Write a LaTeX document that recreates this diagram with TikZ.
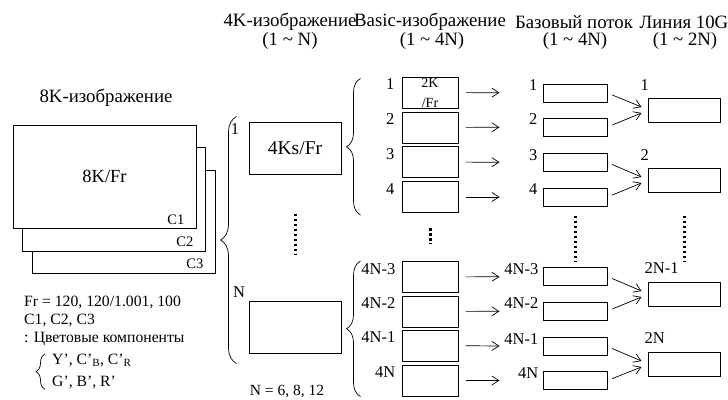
\documentclass[tikz,border=0pt]{standalone}
\usepackage{fontspec}
\setmainfont{Liberation Serif}
\usepackage{tikz}
\usetikzlibrary{arrows.meta, positioning, decorations.pathreplacing, calc}

\begin{document}
\begin{tikzpicture}[x=1pt, y=-1pt,
    every node/.style={inner sep=0pt, font=\fontsize{16.5}{19}\selectfont},
    hdr/.style={font=\fontsize{18.8}{21}\selectfont},
    clbl/.style={anchor=south east, font=\fontsize{14.5}{17}\selectfont},
    frame8k/.style={draw, fill=white, line width=1pt, minimum width=183pt, minimum height=103pt},
    kbox/.style={draw, line width=1pt, minimum width=92pt, minimum height=52pt},
    bbox/.style={draw, line width=1pt, minimum width=56pt, minimum height=31pt},
    sbox/.style={draw, line width=1pt, minimum width=64pt, minimum height=18pt},
    lbox/.style={draw, line width=1pt, minimum width=72pt, minimum height=24pt},
    arr/.style={-{Straight Barb[length=7pt, width=9pt]}, line width=0.7pt},
    brc/.style={decorate, decoration={brace, amplitude=#1}, line width=0.7pt},
    vdots/.style={line width=3pt, dash pattern=on 2.5pt off 2.5pt},
]
\useasboundingbox (0,0) rectangle (728,399);

% column headers
\node[hdr] (h4k) at (290,22) {4K-изображение};
\node[hdr] (h4kn) at (290,41) {(1 \textasciitilde{} N)};
\node[hdr] (hbas) at (430,22) {Basic-изображение};
\node[hdr] (hbasn) at (432,41) {(1 \textasciitilde{} 4N)};
\node[hdr] (hstr) at (574,22) {Базовый поток};
\node[hdr] (hstrn) at (575,41) {(1 \textasciitilde{} 4N)};
\node[hdr] (hlin) at (684,22) {Линия 10G};
\node[hdr] (hlinn) at (685,41) {(1 \textasciitilde{} 2N)};

% 8K picture, three colour planes
\node[hdr] (h8k) at (106,98) {8K-изображение};
\node[frame8k] (f3) at (123.5,222) {};
\node[frame8k, minimum height=104pt] (f2) at (113.5,199) {};
\node[frame8k, font=\fontsize{18.5}{21}\selectfont] (f1) at (104.5,176.5) {8K/Fr};
\node[clbl] (c1) at ([xshift=-12pt, yshift=4pt]f1.south east) {C1};
\node[clbl] (c2) at ([xshift=-12pt, yshift=5pt]f2.south east) {C2};
\node[clbl] (c3) at ([xshift=-12pt, yshift=5pt]f3.south east) {C3};

\node[align=left, anchor=north west, font=\fontsize{15.7}{18}\selectfont] (frtxt) at (24,296)
    {Fr = 120, 120/1.001, 100\\C1, C2, C3\\: Цветовые компоненты};
\node[align=left, anchor=north west, font=\fontsize{15.7}{22}\selectfont] (comp) at (52,354)
    {Y', C'\textsubscript{B}, C'\textsubscript{R}\\G', B', R'};
\draw[brc=9pt] ([xshift=-7pt]comp.south west) -- ([xshift=-7pt]comp.north west);

% 4K pictures
\node[kbox, font=\fontsize{19.5}{22}\selectfont] (k1) at (295,148) {4Ks/Fr};
\node[kbox] (kN) at (295,327) {};
\node (k1lbl) at (235,129) {1};
\node (kNlbl) at (239,292) {N};
\node[font=\fontsize{15.5}{18}\selectfont] (ntxt) at (287,392) {N = 6, 8, 12};
\draw[brc=16pt] ($(kN.south west)+(-12,10)$) -- ($(k1.north west)+(-12,-5)$);
\draw[vdots] ([yshift=-39pt]k1.south) -- ([yshift=46pt]kN.north);

% Basic pictures
\node[bbox, align=center, font=\fontsize{14}{20}\selectfont] (b1) at (430,92.5) {2K\\/Fr};
\node[bbox] (b2) at (430,127.5) {};
\node[bbox] (b3) at (430,162) {};
\node[bbox] (b4) at (430,197) {};
\node[bbox] (b5) at (430,277) {};
\node[bbox] (b6) at (430,311.5) {};
\node[bbox] (b7) at (430,345.5) {};
\node[bbox] (b8) at (430,380.5) {};
\node[left=7pt of b1.north west, yshift=-8pt] (b1lbl) {1};
\node[left=7pt of b2.north west, yshift=-8pt] (b2lbl) {2};
\node[left=7pt of b3.north west, yshift=-8pt] (b3lbl) {3};
\node[left=7pt of b4.north west, yshift=-8pt] (b4lbl) {4};
\node[left=6pt of b5.north west, yshift=-8pt] (b5lbl) {4N-3};
\node[left=6pt of b6.north west, yshift=-8pt] (b6lbl) {4N-2};
\node[left=6pt of b7.north west, yshift=-8pt] (b7lbl) {4N-1};
\node[left=6pt of b8.north west, yshift=-8pt] (b8lbl) {4N};
\draw[brc=14pt] ([xshift=-41pt, yshift=-2pt]b4.south west) -- ([xshift=-41pt, yshift=-2pt]b1.north west);
\draw[brc=14pt] ([xshift=-41pt]b8.south west) -- ([xshift=-41pt]b5.north west);
\draw[vdots] ([yshift=-15pt]b4.south) -- ([yshift=17pt]b5.north);

% base streams
\node[sbox] (s1) at (575,93) {};
\node[sbox] (s2) at (575,127) {};
\node[sbox] (s3) at (575,162.5) {};
\node[sbox] (s4) at (575,197) {};
\node[sbox] (s5) at (575,276.5) {};
\node[sbox] (s6) at (575,311) {};
\node[sbox] (s7) at (575,346.5) {};
\node[sbox] (s8) at (575,380.5) {};
\node[left=5pt of s1.north west, yshift=-2pt] (s1lbl) {1};
\node[left=5pt of s2.north west, yshift=-2pt] (s2lbl) {2};
\node[left=5pt of s3.north west, yshift=-2pt] (s3lbl) {3};
\node[left=5pt of s4.north west, yshift=-2pt] (s4lbl) {4};
\node[left=4pt of s5.north west, yshift=-2pt] (s5lbl) {4N-3};
\node[left=4pt of s6.north west, yshift=-2pt] (s6lbl) {4N-2};
\node[left=4pt of s7.north west, yshift=-2pt] (s7lbl) {4N-1};
\node[left=4pt of s8.north west, yshift=-2pt] (s8lbl) {4N};
\draw[vdots] ([yshift=-9pt]s4.south) -- ([yshift=6pt]s5.north);

% 10G lines
\node[lbox] (l1) at (684,110) {};
\node[lbox] (l2) at (684,180) {};
\node[lbox] (l3) at (684,294) {};
\node[lbox] (l4) at (684,364) {};
\node[above=12pt of l1.north west, anchor=west, xshift=-7pt] (l1lbl) {1};
\node[above=12pt of l2.north west, anchor=west, xshift=-7pt] (l2lbl) {2};
\node[above=13pt of l3.north west, anchor=west, xshift=-3pt] (l3lbl) {2N-1};
\node[above=13pt of l4.north west, anchor=west, xshift=-3pt] (l4lbl) {2N};
\draw[vdots] ([yshift=-23pt]l2.south) -- ([yshift=20pt]l3.north);

% Basic -> stream
\draw[arr, shorten <=7pt, shorten >=43pt] (b1) -- (s1);
\draw[arr, shorten <=7pt, shorten >=43pt] (b2) -- (s2);
\draw[arr, shorten <=7pt, shorten >=43pt] (b3) -- (s3);
\draw[arr, shorten <=7pt, shorten >=43pt] (b4) -- (s4);
\draw[arr, shorten <=7pt, shorten >=43pt] (b5) -- (s5);
\draw[arr, shorten <=7pt, shorten >=43pt] (b6) -- (s6);
\draw[arr, shorten <=7pt, shorten >=43pt] (b7) -- (s7);
\draw[arr, shorten <=7pt, shorten >=43pt] (b8) -- (s8);

% stream -> line
\draw[arr, shorten <=5pt] (s1.east) -- ([xshift=-6pt, yshift=3pt]l1.west);
\draw[arr, shorten <=5pt] (s2.east) -- ([xshift=-6pt, yshift=-3pt]l1.west);
\draw[arr, shorten <=5pt] (s3.east) -- ([xshift=-6pt, yshift=3pt]l2.west);
\draw[arr, shorten <=5pt] (s4.east) -- ([xshift=-6pt, yshift=-3pt]l2.west);
\draw[arr, shorten <=5pt] (s5.east) -- ([xshift=-6pt, yshift=3pt]l3.west);
\draw[arr, shorten <=5pt] (s6.east) -- ([xshift=-6pt, yshift=-3pt]l3.west);
\draw[arr, shorten <=5pt] (s7.east) -- ([xshift=-6pt, yshift=3pt]l4.west);
\draw[arr, shorten <=5pt] (s8.east) -- ([xshift=-6pt, yshift=-3pt]l4.west);
\end{tikzpicture}
\end{document}
